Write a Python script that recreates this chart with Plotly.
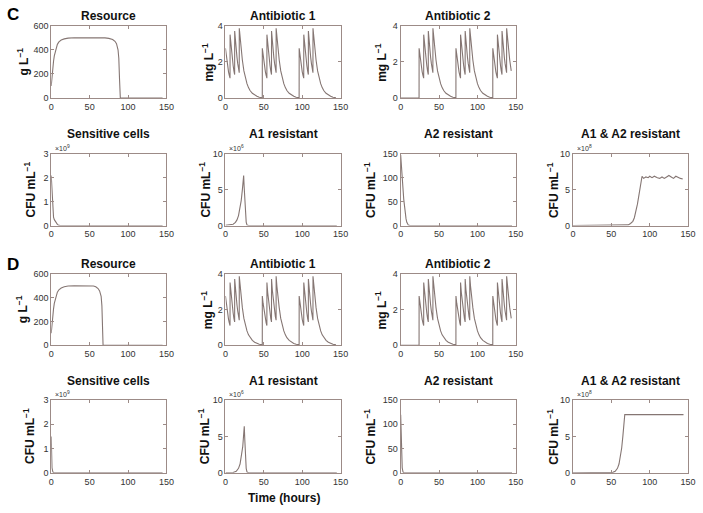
import plotly.graph_objects as go

W, H = 703, 513

# ---------------- data ----------------
# Resource (g/L), panel C
RES_C_T = [0, 1, 2, 3, 4, 6, 8, 10, 13, 17, 22, 30, 40, 50, 60, 70, 75, 80, 83, 85, 87, 88, 89, 89.5, 90, 91, 145]
RES_C_V = [100, 190, 250, 305, 350, 410, 445, 465, 480, 490, 496, 499, 500, 500, 500, 498, 494, 485, 470, 450, 400, 330, 150, 20, 0, 0, 0]
# Resource (g/L), panel D
RES_D_T = [0, 1, 2, 3, 4, 6, 8, 10, 13, 17, 22, 30, 40, 50, 55, 58, 61, 63, 65, 66, 66.5, 67, 67.5, 145]
RES_D_V = [100, 190, 250, 305, 350, 410, 445, 465, 480, 490, 496, 499, 500, 500, 497, 490, 475, 455, 410, 330, 200, 50, 0, 0]

# One dosing cycle of an antibiotic (mg/L), relative time
AB_CYCLE_T = [0, 1, 2, 3, 4, 5, 5.95,
              6, 7, 8, 9, 10, 11, 11.95,
              12, 13, 14, 15, 16, 17, 17.95,
              18, 19, 20, 22, 24, 26, 28, 30, 32, 35, 38, 41, 44, 47.95]
AB_CYCLE_V = [2.75, 2.35, 2.0, 1.7, 1.45, 1.25, 1.1,
              3.5, 2.95, 2.5, 2.1, 1.8, 1.5, 1.3,
              3.7, 3.1, 2.65, 2.25, 1.9, 1.6, 1.4,
              3.85, 3.3, 2.85, 2.1, 1.5, 1.1, 0.8, 0.58, 0.42, 0.27, 0.17, 0.1, 0.05, 0.02]
AB1_STARTS = [0, 48, 96]
AB2_STARTS = [24, 72, 120]
T_END = 144

# Sensitive cells (x1e9 CFU/mL)
SENS_C_T = [0, 0.5, 1, 2, 3, 4, 6, 8, 10, 12, 145]
SENS_C_V = [2.1, 1.7, 1.2, 0.6, 0.35, 0.25, 0.12, 0.05, 0.01, 0, 0]
SENS_D_T = [0, 0.5, 1, 2, 3, 145]
SENS_D_V = [1.5, 0.6, 0.2, 0.05, 0, 0]

# A1 resistant (x1e6 CFU/mL)
A1_C_T = [0, 5, 10, 13, 15, 17, 19, 20.5, 22, 23, 23.7, 24.3, 25, 26, 27, 28, 30, 145]
A1_C_V = [0.05, 0.08, 0.2, 0.45, 0.8, 1.4, 2.4, 3.5, 5.0, 6.3, 7.0, 5.5, 3.5, 1.5, 0.5, 0.1, 0, 0]
A1_D_T = [0, 10, 14, 17, 19, 21, 22.5, 23.5, 24.5, 25.2, 26, 27, 28, 30, 145]
A1_D_V = [0, 0.03, 0.2, 0.6, 1.2, 2.3, 3.6, 5.0, 6.4, 4.5, 2.0, 0.6, 0.1, 0, 0]

# A2 resistant (CFU/mL)
A2_C_T = [0, 1, 2, 3, 4, 5, 6, 7, 8, 9, 10, 12, 145]
A2_C_V = [148, 130, 105, 78, 55, 38, 24, 14, 7, 3, 1, 0, 0]
A2_D_T = [0, 0.5, 1, 1.5, 2, 3, 4, 145]
A2_D_V = [120, 80, 45, 22, 10, 2, 0, 0]

# A1 & A2 resistant (x1e8 CFU/mL)
A12_C_T = [0, 60, 68, 72, 75, 78, 80, 82, 84, 86, 88, 89, 90, 92, 95, 98, 100, 103, 106, 110,
           113, 116, 119, 122, 125, 128, 131, 134, 137, 140, 143]
A12_C_V = [0, 0, 0.02, 0.1, 0.3, 0.6, 1.1, 1.9, 3.0, 4.3, 5.8, 6.6, 6.9, 6.6, 6.8, 6.7, 6.9, 6.7, 6.9, 6.7,
           6.6, 6.8, 6.6, 6.8, 7.0, 6.8, 6.6, 6.9, 6.7, 6.6, 6.5]
A12_D_T = [0, 48, 52, 55, 58, 60, 62, 63.5, 65, 66, 67, 67.5, 144]
A12_D_V = [0, 0, 0.05, 0.2, 0.6, 1.2, 2.2, 3.4, 5.0, 6.4, 7.6, 8.0, 8.0]

X_TICKS = [0, 50, 100, 150]


def antibiotic(starts, t_end):
    ts, vs = [], []
    if starts[0] > 0:
        ts += [0, starts[0] - 0.05]
        vs += [0, 0]
    for s in starts:
        for t, v in zip(AB_CYCLE_T, AB_CYCLE_V):
            if s + t <= t_end:
                ts.append(s + t)
                vs.append(v)
    return ts, vs


AB1_T, AB1_V = antibiotic(AB1_STARTS, T_END)
AB2_T, AB2_V = antibiotic(AB2_STARTS, T_END)

# ---------------- layout ----------------
COLS = [(49, 166), (226, 343), (404, 521), (579, 696)]
ROWS = [(21, 95), (152, 225), (274, 347), (403, 477)]
TITLE_GAP = [10, 20, 10, 20]

LINE_COL = "#857673"
FRAME_COL = "#9c8b87"
FONT = "Liberation Sans, Arial, sans-serif"

# (row, col, title, ytitle, ytitle_x_px, yrange, yticks, mult, t, v)
panels = [
    (0, 0, "Resource", "g L<sup>−1</sup>", 20, [0, 600], [0, 200, 400, 600], None, RES_C_T, RES_C_V),
    (0, 1, "Antibiotic 1", "mg L<sup>−1</sup>", 208, [0, 4], [0, 2, 4], None, AB1_T, AB1_V),
    (0, 2, "Antibiotic 2", "mg L<sup>−1</sup>", 384, [0, 4], [0, 2, 4], None, AB2_T, AB2_V),
    (1, 0, "Sensitive cells", "CFU mL<sup>−1</sup>", 27, [0, 3], [0, 1, 2, 3], "×10<sup>9</sup>", SENS_C_T, SENS_C_V),
    (1, 1, "A1 resistant", "CFU mL<sup>−1</sup>", 205, [0, 10], [0, 5, 10], "×10<sup>6</sup>", A1_C_T, A1_C_V),
    (1, 2, "A2 resistant", "CFU mL<sup>−1</sup>", 373, [0, 150], [0, 50, 100, 150], None, A2_C_T, A2_C_V),
    (1, 3, "A1 & A2 resistant", "CFU mL<sup>−1</sup>", 559, [0, 10], [0, 5, 10], "×10<sup>8</sup>", A12_C_T, A12_C_V),
    (2, 0, "Resource", "g L<sup>−1</sup>", 20, [0, 600], [0, 200, 400, 600], None, RES_D_T, RES_D_V),
    (2, 1, "Antibiotic 1", "mg L<sup>−1</sup>", 208, [0, 4], [0, 2, 4], None, AB1_T, AB1_V),
    (2, 2, "Antibiotic 2", "mg L<sup>−1</sup>", 384, [0, 4], [0, 2, 4], None, AB2_T, AB2_V),
    (3, 0, "Sensitive cells", "CFU mL<sup>−1</sup>", 27, [0, 3], [0, 1, 2, 3], "×10<sup>9</sup>", SENS_D_T, SENS_D_V),
    (3, 1, "A1 resistant", "CFU mL<sup>−1</sup>", 205, [0, 10], [0, 5, 10], "×10<sup>6</sup>", A1_D_T, A1_D_V),
    (3, 2, "A2 resistant", "CFU mL<sup>−1</sup>", 373, [0, 150], [0, 50, 100, 150], None, A2_D_T, A2_D_V),
    (3, 3, "A1 & A2 resistant", "CFU mL<sup>−1</sup>", 559, [0, 10], [0, 5, 10], "×10<sup>8</sup>", A12_D_T, A12_D_V),
]

fig = go.Figure()
annotations = []
layout = dict(
    width=W, height=H, margin=dict(l=0, r=0, t=0, b=0),
    paper_bgcolor="white", plot_bgcolor="white", showlegend=False,
    font=dict(family=FONT, color="#333333"),
)

for i, (r, c, title, ytitle, ytx, yr, yt, mult, t, v) in enumerate(panels):
    n = i + 1
    xa = "x" if n == 1 else f"x{n}"
    ya = "y" if n == 1 else f"y{n}"
    x0, x1 = COLS[c]
    y0, y1 = ROWS[r]
    axis_common = dict(
        showgrid=False, zeroline=False, showline=True, mirror="ticks",
        linecolor=FRAME_COL, linewidth=1, ticks="inside", ticklen=3,
        tickcolor=FRAME_COL, tickfont=dict(size=9, family=FONT, color="#333333"),
    )
    layout["xaxis" if n == 1 else f"xaxis{n}"] = dict(
        domain=[x0 / W, x1 / W], anchor=ya, range=[0, 150], tickvals=X_TICKS,
        **axis_common)
    layout["yaxis" if n == 1 else f"yaxis{n}"] = dict(
        domain=[1 - y1 / H, 1 - y0 / H], anchor=xa, range=yr, tickvals=yt,
        **axis_common)
    fig.add_trace(go.Scatter(x=t, y=v, mode="lines", xaxis=xa, yaxis=ya,
                             line=dict(color=LINE_COL, width=1.1), hoverinfo="skip"))
    # title
    annotations.append(dict(x=(x0 + x1) / 2 / W, y=1 - (y0 - TITLE_GAP[r]) / H, xref="paper", yref="paper",
                            text=f"<b>{title}</b>", showarrow=False, xanchor="center", yanchor="middle",
                            font=dict(size=12, family=FONT, color="#111111")))
    # y title
    annotations.append(dict(x=ytx / W, y=1 - (y0 + y1) / 2 / H, xref="paper", yref="paper",
                            text=f"<b>{ytitle}</b>", showarrow=False, textangle=-90,
                            xanchor="center", yanchor="middle",
                            font=dict(size=12, family=FONT, color="#111111")))
    if mult:
        annotations.append(dict(x=(x0 + 2) / W, y=1 - (y0 - 6) / H, xref="paper", yref="paper",
                                text=mult, showarrow=False, xanchor="left", yanchor="middle",
                                font=dict(size=7, family=FONT, color="#333333")))

annotations.append(dict(x=2 / W, y=1 - 10 / H, xref="paper", yref="paper", text="<b>C</b>",
                        showarrow=False, xanchor="left", yanchor="middle",
                        font=dict(size=17, family=FONT, color="#000000")))
annotations.append(dict(x=2 / W, y=1 - 265 / H, xref="paper", yref="paper", text="<b>D</b>",
                        showarrow=False, xanchor="left", yanchor="middle",
                        font=dict(size=17, family=FONT, color="#000000")))
annotations.append(dict(x=285 / W, y=1 - 503 / H, xref="paper", yref="paper", text="<b>Time (hours)</b>",
                        showarrow=False, xanchor="center", yanchor="middle",
                        font=dict(size=12, family=FONT, color="#111111")))

layout["annotations"] = annotations
fig.update_layout(**layout)
fig.write_html("out.html", config={"displayModeBar": False},
               post_script="document.body.style.margin='0';document.body.style.overflow='hidden';")
